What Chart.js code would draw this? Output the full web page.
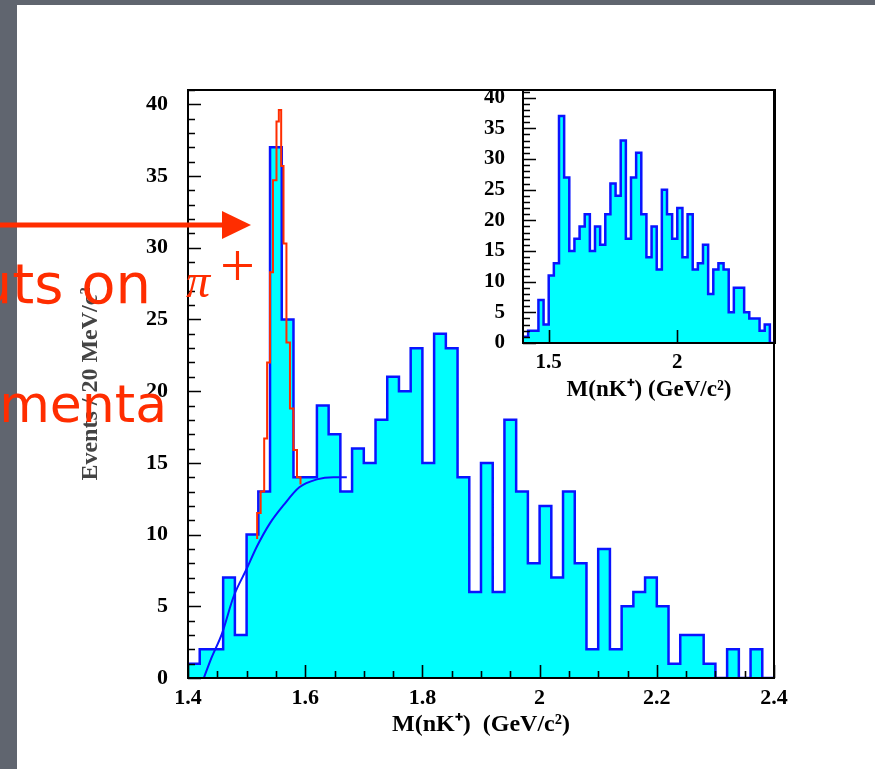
<!DOCTYPE html>
<html>
<head>
<meta charset="utf-8">
<script src="https://cdn.jsdelivr.net/npm/chart.js@4.4.1/dist/chart.umd.min.js"></script>
<style>
  html, body { margin: 0; padding: 0; width: 875px; height: 769px; overflow: hidden; background: #60656f; }
  #sheet { position: absolute; left: 17px; top: 5px; right: 0; bottom: 0; background: #fff; }
  #main { position: absolute; left: 0; top: 0; }
  #inset { position: absolute; left: 440px; top: 80px; }
  #notes { position: absolute; left: 0; top: 0; }
</style>
</head>
<body>
<div id="sheet"></div>
<canvas id="main" width="875" height="769"></canvas>
<canvas id="inset" width="345" height="330"></canvas>
<svg id="notes" width="875" height="769">
  <line x1="0" y1="225" x2="226" y2="225" stroke="#ff2d00" stroke-width="5"/>
  <polygon points="222,211 251,225 222,239" fill="#ff2d00"/>
  <text x="151" y="303" text-anchor="end" font-family="DejaVu Sans" font-size="56" fill="#ff2d00">cuts on</text>
  <text x="186" y="297" font-family="Liberation Serif" font-style="italic" font-size="48" fill="#ff2d00">π</text>
  <text x="220" y="286" font-family="Liberation Serif" font-size="62" fill="#ff2d00">+</text>
  <text x="167" y="422" text-anchor="end" font-family="DejaVu Sans" font-size="52" fill="#ff2d00">momenta</text>
</svg>
<script>
// main plot: 20 MeV bins from 1.40 to 2.40 GeV
const binLow = 1.4;
const binWidth = 0.02;
const mainCounts = [1, 2, 2, 7, 3, 10, 13, 37, 25, 14,
                    14, 19, 17, 13, 16, 15, 18, 21, 20, 23,
                    15, 24, 23, 14, 6, 15, 6, 18, 13, 8,
                    12, 7, 13, 8, 2, 9, 2, 5, 6, 7,
                    5, 1, 3, 3, 1, 0, 2, 0, 2, 0];

// red signal shape (step edges in GeV, events)
const redMass = [1.518, 1.518, 1.524, 1.530, 1.535, 1.540, 1.545, 1.551, 1.555,
                 1.559, 1.563, 1.568, 1.574, 1.580, 1.586, 1.592];
const redEvents = [9.7, 11.5, 13, 16.7, 22, 28.3, 34.7, 38.8, 39.6,
                   35.7, 30.3, 23.4, 18.8, 15.9, 14.0, 13.5];

// blue background curve
const bgMass = [1.427, 1.44, 1.458, 1.478, 1.50, 1.518, 1.54, 1.563, 1.59, 1.62, 1.648, 1.671];
const bgEvents = [0, 1.4, 3.1, 5.7, 7.6, 9.2, 10.8, 12.05, 13.3, 13.85, 14.0, 14.0];

// inset: same binning, 1.40 to 2.38 GeV
const insetCounts = [1, 2, 2, 7, 3, 11, 13, 37, 27, 15,
                     17, 19, 21, 15, 19, 16, 21, 26, 24, 33,
                     17, 27, 31, 21, 14, 19, 12, 25, 21, 17,
                     22, 14, 21, 12, 13, 16, 8, 12, 13, 12,
                     5, 9, 9, 5, 4, 4, 2, 3, 0];

const mainTicksY = [0, 5, 10, 15, 20, 25, 30, 35, 40];
const insetTicksX = [1.5, 2];

const serif = "'Liberation Serif', 'Times New Roman', serif";
const CYAN = '#00ffff';
const BLUE = '#0a14ff';
const RED = '#ff2d00';

// value i holds from edge i to edge i+1 ('before' in Chart.js terms)
function stepPoints(counts) {
    const pts = counts.map((c, i) => ({x: binLow + i * binWidth, y: c}));
    pts.push({x: binLow + counts.length * binWidth, y: counts[counts.length - 1]});
    return pts;
}

function fixWidth(w) {
    return s => { s.width = w; s.paddingTop = 0; s.paddingBottom = 0; };
}
function fixHeight(h) {
    return s => { s.height = h; s.paddingLeft = 0; s.paddingRight = 0; };
}

// black frame + inward ticks like the original ROOT plot
const frameTicks = {
    id: 'frameTicks',
    afterDatasetsDraw(chart, args, opts) {
        const {ctx, chartArea: a, scales: {x, y}} = chart;
        ctx.save();
        ctx.strokeStyle = '#000';
        ctx.lineWidth = 1.6;
        ctx.beginPath();
        const yStep = opts.yMinor;
        for (let k = Math.ceil(y.min / yStep - 1e-6); k <= Math.floor(y.max / yStep + 1e-6); k++) {
            const v = k * yStep;
            const major = Math.abs(v / opts.yMajor - Math.round(v / opts.yMajor)) < 1e-6;
            const py = Math.round(y.getPixelForValue(v)) + 0.5;
            ctx.moveTo(a.left, py);
            ctx.lineTo(a.left + (major ? opts.majorLen : opts.minorLen), py);
        }
        const xStep = opts.xMinor || opts.xMajor;
        for (let k = Math.ceil(x.min / xStep - 1e-6); k <= Math.floor(x.max / xStep + 1e-6); k++) {
            const v = k * xStep;
            const major = Math.abs(v / opts.xMajor - Math.round(v / opts.xMajor)) < 1e-6;
            const px = Math.round(x.getPixelForValue(v)) + 0.5;
            ctx.moveTo(px, a.bottom);
            ctx.lineTo(px, a.bottom - (major ? opts.majorLen : opts.minorLen));
        }
        ctx.stroke();
        ctx.lineWidth = 2;
        ctx.strokeRect(a.left, a.top, a.right - a.left, a.bottom - a.top);
        ctx.restore();
    }
};

const tickFont = {family: serif, size: 22, weight: 'bold'};

new Chart(document.getElementById('main'), {
    type: 'line',
    data: {
        datasets: [
            {
                data: bgMass.map((m, i) => ({x: m, y: bgEvents[i]})),
                borderColor: BLUE, borderWidth: 2, pointRadius: 0,
                cubicInterpolationMode: 'monotone', fill: false
            },
            {
                data: redMass.map((m, i) => ({x: m, y: redEvents[i]})),
                borderColor: RED, borderWidth: 2, pointRadius: 0,
                stepped: 'before', fill: false
            },
            {
                data: stepPoints(mainCounts),
                borderColor: BLUE, borderWidth: 2.5, pointRadius: 0,
                stepped: 'before', fill: 'origin', backgroundColor: CYAN
            }
        ]
    },
    options: {
        responsive: false,
        animation: false,
        layout: {padding: {left: 0, top: 90, right: 101, bottom: 0}},
        plugins: {
            legend: {display: false},
            tooltip: {enabled: false},
            frameTicks: {yMinor: 1, yMajor: 5, xMinor: 0.05, xMajor: 0.2, minorLen: 7, majorLen: 13}
        },
        scales: {
            x: {
                type: 'linear', min: 1.4, max: 2.4,
                grid: {display: false, drawTicks: false},
                border: {display: false},
                ticks: {
                    stepSize: 0.2, autoSkip: false, maxRotation: 0, padding: 7,
                    color: '#000', font: tickFont,
                    callback: v => String(+v.toFixed(2))
                },
                title: {
                    display: true, text: 'M(nK⁺)  (GeV/c²)', color: '#000',
                    font: {family: serif, size: 24, weight: 'bold'},
                    padding: {top: 0, bottom: 30}
                },
                afterFit: fixHeight(91)
            },
            y: {
                type: 'linear', min: 0, max: 41,
                grid: {display: false, drawTicks: false},
                border: {display: false},
                afterBuildTicks: s => { s.ticks = mainTicksY.map(v => ({value: v})); },
                ticks: {padding: 20, color: '#000', font: tickFont},
                title: {
                    display: true, text: 'Events / 20 MeV/c²', color: '#444',
                    font: {family: serif, size: 24, weight: 'bold'},
                    padding: {top: 76, bottom: 0}
                },
                afterFit: fixWidth(188)
            }
        }
    },
    plugins: [frameTicks]
});

new Chart(document.getElementById('inset'), {
    type: 'line',
    data: {
        datasets: [{
            data: stepPoints(insetCounts),
            borderColor: BLUE, borderWidth: 2.5, pointRadius: 0,
            stepped: 'before', fill: 'origin', backgroundColor: CYAN
        }]
    },
    options: {
        responsive: false,
        animation: false,
        layout: {padding: {left: 0, top: 10, right: 10, bottom: 0}},
        plugins: {
            legend: {display: false},
            tooltip: {enabled: false},
            frameTicks: {yMinor: 1, yMajor: 5, xMinor: 0, xMajor: 0.5, minorLen: 7, majorLen: 13}
        },
        scales: {
            x: {
                type: 'linear', min: 1.4, max: 2.38,
                grid: {display: false, drawTicks: false},
                border: {display: false},
                afterBuildTicks: s => { s.ticks = insetTicksX.map(v => ({value: v})); },
                ticks: {
                    autoSkip: false, maxRotation: 0, padding: 7, color: '#000',
                    font: {family: serif, size: 21, weight: 'bold'},
                    callback: v => String(v)
                },
                title: {
                    display: true, text: 'M(nK⁺) (GeV/c²)', color: '#000',
                    font: {family: serif, size: 23, weight: 'bold'},
                    padding: {top: 0, bottom: 6}
                },
                afterFit: fixHeight(67)
            },
            y: {
                type: 'linear', min: 0, max: 41.25,
                grid: {display: false, drawTicks: false},
                border: {display: false},
                afterBuildTicks: s => { s.ticks = mainTicksY.map(v => ({value: v})); },
                ticks: {padding: 18, color: '#000', font: {family: serif, size: 21, weight: 'bold'}},
                afterFit: fixWidth(83)
            }
        }
    },
    plugins: [frameTicks]
});
</script>
</body>
</html>
